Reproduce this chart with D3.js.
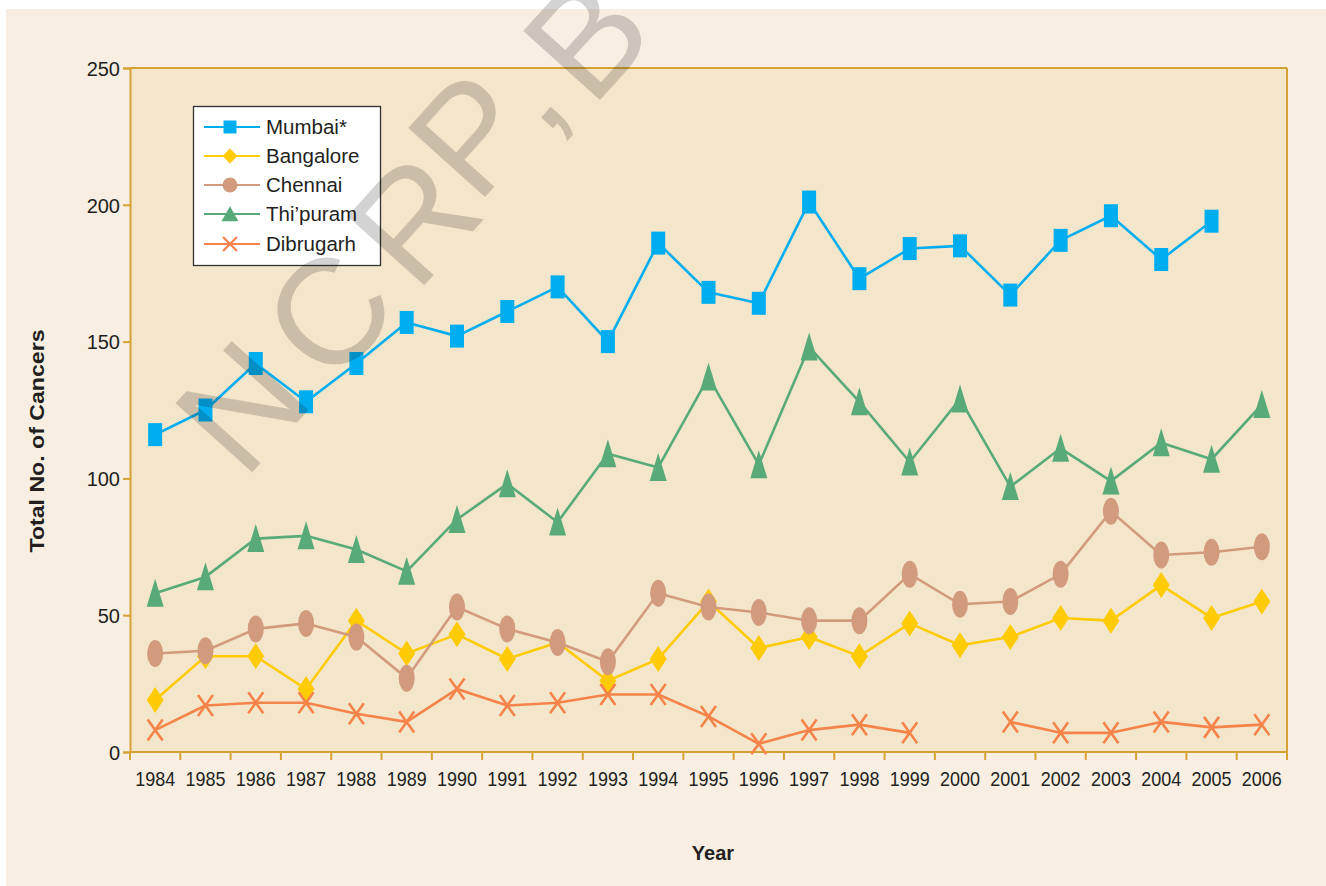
<!DOCTYPE html>
<html>
<head>
<meta charset="utf-8">
<script src="https://cdn.jsdelivr.net/npm/d3@7"></script>
<style>
  html, body { margin: 0; padding: 0; background: #ffffff; }
  svg { display: block; }
  text { font-family: "Liberation Sans", Arial, Helvetica, sans-serif; }
</style>
</head>
<body>
<svg id="chart" width="1326" height="886"></svg>
<script>
// ---------------- data ----------------
const years = ["1984","1985","1986","1987","1988","1989","1990","1991","1992","1993","1994","1995","1996","1997","1998","1999","2000","2001","2002","2003","2004","2005","2006"];
const mumbai     = [116,125,142,128,142,157,152,161,170,150,186,168,164,201,173,184,185,167,187,196,180,194,null];
const bangalore  = [19,35,35,23,48,36,43,34,40,26,34,55,38,42,35,47,39,42,49,48,61,49,55];
const chennai    = [36,37,45,47,42,27,53,45,40,33,58,53,51,48,48,65,54,55,65,88,72,73,75];
const thipuram   = [58,64,78,79,74,66,85,98,84,109,104,137,105,148,128,106,129,97,111,99,113,107,127];
const dibrugarh  = [8,17,18,18,14,11,23,17,18,21,21,13,3,8,10,7,null,11,7,7,11,9,10];
const seriesNames = ["Mumbai*","Bangalore","Chennai","Thi\u2019puram","Dibrugarh"];
const yTicks = [0,50,100,150,200,250];
const watermarkLetters = ["N","C","R","P",",","B"];

// ---------------- styles ----------------
const colors = ["#00aeef","#ffcb05","#d39b7e","#58aa79","#f5844a"];
const shapes = ["square","diamond","ellipse","triangle","cross"];
const seriesValues = [mumbai, bangalore, chennai, thipuram, dibrugarh];
const axisColor = "#d6a236";
const textColor = "#231f20";

const svg = d3.select("#chart");
const W = 1326, H = 886;
const margin = {left: 130, right: 1326 - 1287, top: 68, bottom: 886 - 752};

// backgrounds
svg.append("rect").attr("x", 0).attr("y", 0).attr("width", W).attr("height", H).attr("fill", "#ffffff");
svg.append("rect").attr("x", 6).attr("y", 9).attr("width", W - 6).attr("height", H - 9).attr("fill", "#f8efe2");

const x = d3.scaleBand().domain(years).range([margin.left, W - margin.right]).padding(0);
const y = d3.scaleLinear().domain([0, 250]).range([H - margin.bottom, margin.top]);

// plot area
svg.append("rect")
  .attr("x", x.range()[0]).attr("y", y(250))
  .attr("width", x.range()[1] - x.range()[0]).attr("height", y(0) - y(250))
  .attr("fill", "#f4e6cb");

// frame: top & right
svg.append("line").attr("x1", x.range()[0]).attr("x2", x.range()[1]).attr("y1", y(250)).attr("y2", y(250))
  .attr("stroke", axisColor).attr("stroke-width", 2);
svg.append("line").attr("x1", x.range()[1]).attr("x2", x.range()[1]).attr("y1", y(250)).attr("y2", y(0))
  .attr("stroke", axisColor).attr("stroke-width", 2);

// y axis
const yAxis = svg.append("g").attr("transform", `translate(${x.range()[0]},0)`)
  .call(d3.axisLeft(y).tickValues(yTicks).tickSize(7).tickPadding(3).tickFormat(d3.format("d")));
yAxis.select(".domain").attr("stroke", axisColor).attr("stroke-width", 2);
yAxis.selectAll(".tick line").attr("stroke", axisColor).attr("stroke-width", 2);
yAxis.selectAll(".tick text").attr("fill", textColor).attr("font-size", 20)
  .attr("font-family", "Liberation Sans, Arial, sans-serif").attr("dy", "0.36em");

// x axis (ticks on band boundaries)
const xAxisG = svg.append("g").attr("transform", `translate(0,${y(0)})`);
xAxisG.append("line").attr("x1", x.range()[0]).attr("x2", x.range()[1]).attr("y1", 0).attr("y2", 0)
  .attr("stroke", axisColor).attr("stroke-width", 2);
const boundaries = years.map(d => x(d)).concat([x(years[years.length - 1]) + x.bandwidth()]);
xAxisG.selectAll("line.tk").data(boundaries).enter().append("line").attr("class", "tk")
  .attr("x1", d => d).attr("x2", d => d).attr("y1", 0).attr("y2", 8)
  .attr("stroke", axisColor).attr("stroke-width", 2);
xAxisG.selectAll("text.lbl").data(years).enter().append("text").attr("class", "lbl")
  .attr("x", d => x(d) + x.bandwidth() / 2).attr("y", 34)
  .attr("text-anchor", "middle").attr("font-size", 21).attr("fill", textColor)
  .attr("textLength", 40).attr("lengthAdjust", "spacingAndGlyphs")
  .text(d => d);

// axis titles
svg.append("text").attr("transform", "translate(44,441) rotate(-90)")
  .attr("text-anchor", "middle").attr("font-size", 21).attr("font-weight", "bold").attr("fill", textColor)
  .attr("textLength", 223).attr("lengthAdjust", "spacingAndGlyphs")
  .text("Total No. of Cancers");
svg.append("text").attr("x", 713).attr("y", 860)
  .attr("text-anchor", "middle").attr("font-size", 20).attr("font-weight", "bold").attr("fill", textColor)
  .text("Year");

// marker path generator
function markerPath(shape, w, h) {
  const a = w / 2, b = h / 2;
  switch (shape) {
    case "square": return `M${-a},${-b}H${a}V${b}H${-a}Z`;
    case "diamond": return `M0,${-b}L${a},0L0,${b}L${-a},0Z`;
    case "triangle": return `M0,${-h * 0.52}L${a},${h * 0.48}L${-a},${h * 0.48}Z`;
    case "cross": return `M${-a},${-b}L${a},${b}M${a},${-b}L${-a},${b}`;
    case "ellipse": return `M${-a},0A${a},${b} 0 1,0 ${a},0A${a},${b} 0 1,0 ${-a},0Z`;
  }
}
const chartSize = {square: [14, 23], diamond: [17, 26], ellipse: [16, 27], triangle: [17, 28], cross: [15, 21]};
const legendSize = {square: [13, 13], diamond: [15, 15], ellipse: [15, 15], triangle: [17, 15], cross: [14, 14]};

const line = d3.line().defined(d => d.v != null).x(d => x(d.year) + x.bandwidth() / 2).y(d => y(d.v));

seriesValues.forEach((vals, i) => {
  const data = years.map((yr, j) => ({year: yr, v: vals[j]}));
  const g = svg.append("g");
  g.append("path").datum(data).attr("d", line).attr("fill", "none")
    .attr("stroke", colors[i]).attr("stroke-width", 2.6).attr("stroke-linejoin", "round");
  const shape = shapes[i];
  const [w, h] = chartSize[shape];
  g.selectAll("path.m").data(data.filter(d => d.v != null)).enter().append("path").attr("class", "m")
    .attr("transform", d => `translate(${x(d.year) + x.bandwidth() / 2},${y(d.v)})`)
    .attr("d", markerPath(shape, w, h))
    .attr("fill", shape === "cross" ? "none" : colors[i])
    .attr("stroke", shape === "cross" ? colors[i] : "none")
    .attr("stroke-width", shape === "cross" ? 2.6 : 0);
});

// legend
const lg = svg.append("g");
lg.append("rect").attr("x", 193.5).attr("y", 106.5).attr("width", 187).attr("height", 159)
  .attr("fill", "#ffffff").attr("stroke", "#333").attr("stroke-width", 1.3);
const rowY = [127, 156, 185, 214, 244];
seriesNames.forEach((name, i) => {
  const ry = rowY[i];
  lg.append("line").attr("x1", 204).attr("x2", 260).attr("y1", ry).attr("y2", ry)
    .attr("stroke", colors[i]).attr("stroke-width", 2.2);
  const shape = shapes[i];
  const [w, h] = legendSize[shape];
  lg.append("path").attr("transform", `translate(230,${ry})`).attr("d", markerPath(shape, w, h))
    .attr("fill", shape === "cross" ? "none" : colors[i])
    .attr("stroke", shape === "cross" ? colors[i] : "none")
    .attr("stroke-width", shape === "cross" ? 2.2 : 0);
  lg.append("text").attr("x", 266).attr("y", ry).attr("dy", "0.36em")
    .attr("font-size", 20.5).attr("fill", textColor).text(name);
});

// watermark
const wmCenters = [[240, 405], [327, 312], [412, 218], [470, 133], [552, 118], [585, 36]];
const wm = svg.append("g").style("mix-blend-mode", "multiply");
watermarkLetters.forEach((ch, i) => {
  const [cx, cy] = wmCenters[i];
  wm.append("text").attr("transform", `translate(${cx},${cy}) rotate(-48)`)
    .attr("text-anchor", "middle").attr("dy", ch === "," ? "0.05em" : "0.36em")
    .attr("font-size", 150).attr("fill", "#d3d3d3").text(ch);
});
</script>
</body>
</html>
